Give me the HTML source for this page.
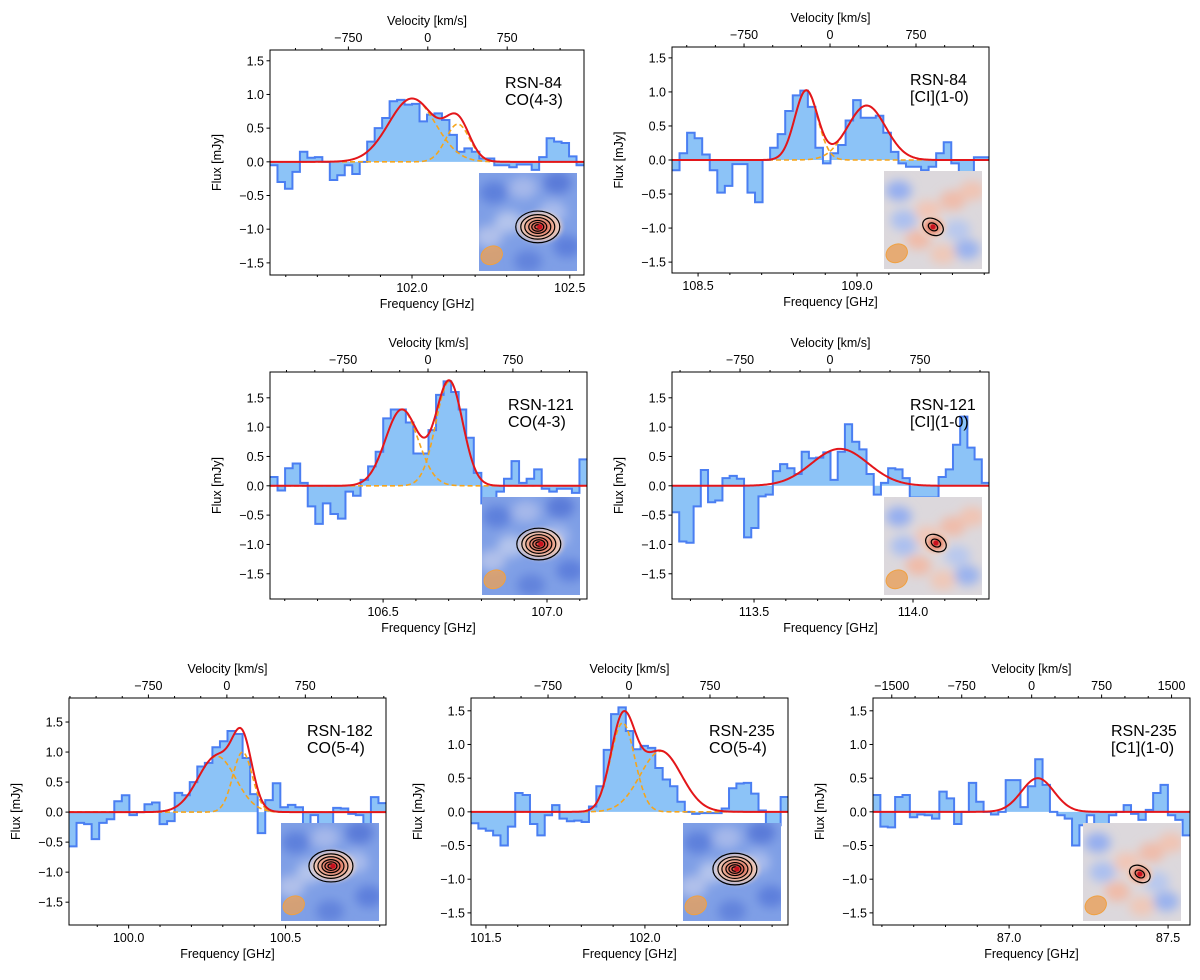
<!DOCTYPE html>
<html><head><meta charset="utf-8"><style>
html,body{margin:0;padding:0;background:#fff;}
svg text{font-family:"Liberation Sans","DejaVu Sans",sans-serif;fill:#000;}
</style></head><body>
<svg id="fig" xmlns="http://www.w3.org/2000/svg" width="1200" height="975" viewBox="0 0 1200 975">
<defs>
<filter id="blur" x="-50%" y="-50%" width="200%" height="200%"><feGaussianBlur stdDeviation="5"/></filter>
<filter id="blur2" x="-50%" y="-50%" width="200%" height="200%"><feGaussianBlur stdDeviation="2.5"/></filter>
<radialGradient id="srcGrad"><stop offset="0" stop-color="#c41e2a"/><stop offset="0.35" stop-color="#e0705a"/><stop offset="0.7" stop-color="#f0b9a0"/><stop offset="1" stop-color="#ead8d0"/></radialGradient>
</defs>
</svg>
<script>
// ---- data: histogram values (mJy) ----
const valsA=[-0.05,-0.3,-0.4,-0.15,0.15,0.06,0.07,0.0,-0.27,-0.2,-0.05,-0.18,0.0,0.3,0.5,0.65,0.9,0.92,0.85,0.86,0.6,0.7,0.72,0.62,0.4,0.15,0.2,0.15,0.05,0.05,-0.05,-0.05,-0.08,-0.04,-0.04,-0.12,0.07,0.35,0.3,0.28,0.08,-0.05];
const valsB=[-0.15,0.1,0.4,0.32,0.08,-0.15,-0.48,-0.38,-0.06,-0.06,-0.48,-0.62,0.0,0.18,0.38,0.72,0.95,1.02,0.78,0.18,-0.05,0.1,0.22,0.58,0.88,0.62,0.62,0.65,0.4,0.12,-0.05,-0.1,-0.1,-0.15,-0.1,0.1,0.26,-0.05,-0.2,-0.2,0.04,0.04];
const valsC=[0.15,-0.08,0.3,0.38,0.05,-0.35,-0.65,-0.3,-0.48,-0.56,-0.1,-0.17,0.1,0.33,0.58,1.15,1.3,1.3,1.08,0.55,0.55,0.95,1.55,1.78,1.6,1.3,0.82,0.22,-0.3,-0.25,-0.1,0.12,0.42,0.05,0.12,0.28,-0.05,-0.1,-0.05,-0.05,-0.12,0.45];
const valsD=[-0.45,-0.95,-0.97,-0.35,0.27,-0.28,-0.25,0.13,0.17,0.12,-0.88,-0.72,-0.18,-0.15,0.25,0.37,0.3,0.2,0.58,0.47,0.48,0.57,0.1,0.58,1.05,0.75,0.62,0.2,-0.15,0.05,0.3,0.28,0.13,-0.2,-0.2,-0.2,-0.2,0.15,0.28,0.7,1.18,0.65,0.45,0.05];
const valsE=[-0.57,-0.18,-0.2,-0.45,-0.18,-0.12,0.18,0.28,-0.05,0.0,0.13,0.16,-0.2,-0.15,0.32,0.28,0.5,0.76,0.82,1.08,1.18,1.35,1.3,0.9,0.3,-0.35,0.2,0.48,0.08,0.12,0.08,-0.3,-0.05,-0.3,-0.3,0.07,0.06,-0.03,-0.05,-0.3,0.25,0.15];
const valsF=[-0.17,-0.25,-0.28,-0.35,-0.5,-0.22,0.28,0.25,-0.18,-0.35,-0.05,0.1,-0.1,-0.14,-0.13,-0.15,0.08,0.38,0.92,1.45,1.55,1.2,0.93,0.98,0.95,0.65,0.48,0.38,0.15,0.0,-0.03,-0.02,-0.02,-0.02,0.05,0.35,0.42,0.43,0.27,0.02,-0.2,-0.2,0.22];
const valsG=[0.25,-0.22,-0.23,0.22,0.25,-0.08,-0.04,-0.05,-0.1,0.3,0.2,-0.18,0.0,0.43,0.15,0.0,-0.04,0.0,0.47,0.47,0.07,0.38,0.78,0.4,0.0,-0.05,-0.1,-0.5,-0.2,-0.05,-0.25,-0.3,-0.05,0.0,0.1,-0.03,-0.12,0.03,0.28,0.4,-0.05,-0.12,-0.35];
// ---- gaussian fit components: [center GHz, amplitude mJy, sigma GHz] ----
const fitA=[[102.0,0.94,0.074],[102.145,0.56,0.038]];
const fitB=[[108.84,1.02,0.036],[109.03,0.8,0.06]];
const fitC=[[106.557,1.3,0.05],[106.702,1.78,0.041]];
const fitD=[[113.77,0.63,0.089]];
const fitE=[[100.281,0.93,0.06],[100.363,1.0,0.031]];
const fitF=[[101.93,1.32,0.038],[102.05,0.9,0.065]];
const fitG=[[87.09,0.5,0.051]];
// ---- tick labels ----
const yTicks=[-1.5,-1.0,-0.5,0.0,0.5,1.0,1.5];
const velTicksStd=[-750,0,750];
const velTicksWide=[-1500,-750,0,750,1500];
const labelA=["RSN-84","CO(4-3)"],labelB=["RSN-84","[CI](1-0)"],labelC=["RSN-121","CO(4-3)"],labelD=["RSN-121","[CI](1-0)"],labelE=["RSN-182","CO(5-4)"],labelF=["RSN-235","CO(5-4)"],labelG=["RSN-235","[C1](1-0)"];

const panels=[
 {id:'a',L:270,R:584,T:50,B:275,f0:101.55,f1:102.545,y0:-1.68,y1:1.66,v0:102.05,d750:0.2516,vals:valsA,fit:fitA,lab:labelA,fT:[102.0,102.5],vT:velTicksStd,inset:'co',sx:0.62,sy:0.55},
 {id:'b',L:672,R:989,T:47,B:273,f0:108.418,f1:109.415,y0:-1.66,y1:1.66,v0:108.915,d750:0.2704,vals:valsB,fit:fitB,lab:labelB,fT:[108.5,109.0],vT:velTicksStd,inset:'ci',sx:0.5,sy:0.57},
 {id:'c',L:270,R:587,T:372,B:599,f0:106.155,f1:107.122,y0:-1.93,y1:1.94,v0:106.637,d750:0.259,vals:valsC,fit:fitC,lab:labelC,fT:[106.5,107.0],vT:velTicksStd,inset:'co',sx:0.6,sy:0.48},
 {id:'d',L:672,R:989,T:372,B:599,f0:113.242,f1:114.239,y0:-1.93,y1:1.94,v0:113.739,d750:0.283,vals:valsD,fit:fitD,lab:labelD,fT:[113.5,114.0],vT:velTicksStd,inset:'ci',sx:0.53,sy:0.47},
 {id:'e',L:69,R:386,T:698,B:925,f0:99.81,f1:100.82,y0:-1.88,y1:1.9,v0:100.313,d750:0.25,vals:valsE,fit:fitE,lab:labelE,fT:[100.0,100.5],vT:velTicksStd,inset:'co',sx:0.53,sy:0.44},
 {id:'f',L:471,R:788,T:698,B:925,f0:101.453,f1:102.45,y0:-1.68,y1:1.69,v0:101.95,d750:0.2547,vals:valsF,fit:fitF,lab:labelF,fT:[101.5,102.0],vT:velTicksStd,inset:'co',sx:0.55,sy:0.47},
 {id:'g',L:873,R:1190,T:698,B:925,f0:86.572,f1:87.569,y0:-1.68,y1:1.69,v0:87.071,d750:0.22,vals:valsG,fit:fitG,lab:labelG,fT:[87.0,87.5],vT:velTicksWide,inset:'ci',sx:0.58,sy:0.52}
];
const NS='http://www.w3.org/2000/svg';
const svg=document.getElementById('fig');
function mk(tag,attrs,parent){const e=document.createElementNS(NS,tag);for(const k in attrs)e.setAttribute(k,attrs[k]);(parent||svg).appendChild(e);return e;}
function fmtV(v){return v<0?'\u2212'+Math.abs(v):String(v);}
function gauss(f,c){return c[1]*Math.exp(-0.5*Math.pow((f-c[0])/c[2],2));}

panels.forEach(p=>{
 const g=mk('g',{});
 
 
 const xs=f=>p.L+(f-p.f0)/(p.f1-p.f0)*(p.R-p.L);
 const ys=v=>p.B-(v-p.y0)/(p.y1-p.y0)*(p.B-p.T);
 const cp=mk('clipPath',{id:'clip'+p.id},g);
 mk('rect',{x:p.L,y:p.T,width:p.R-p.L,height:p.B-p.T},cp);
 const plot=mk('g',{'clip-path':'url(#clip'+p.id+')'},g);
 const n=p.vals.length, bw=(p.f1-p.f0)/n;
 let d='M'+xs(p.f0)+','+ys(0), line='';
 p.vals.forEach((v,i)=>{const xa=xs(p.f0+i*bw),xb=xs(p.f0+(i+1)*bw);d+=' L'+xa+','+ys(v)+' L'+xb+','+ys(v);line+=(i?' L':'M')+xa+','+ys(v)+' L'+xb+','+ys(v);});
 d+=' L'+xs(p.f1)+','+ys(0)+' Z';
 const fill=mk('path',{d:d,fill:'#8cc3f7',stroke:'none'},plot);
 
 
 const st=mk('path',{d:line,fill:'none',stroke:'#4a7ef2','stroke-width':2},plot);
 
 
 const N=300;
 if(p.fit.length>1){p.fit.forEach((c,k)=>{let s='';for(let i=0;i<=N;i++){const f=p.f0+(p.f1-p.f0)*i/N;s+=(i?' L':'M')+xs(f).toFixed(2)+','+ys(gauss(f,c)).toFixed(2);}
  const cpn=mk('path',{d:s,fill:'none',stroke:'#f5a51c','stroke-width':1.6,'stroke-dasharray':'5,3'},plot);
  
  });}
 let s='';for(let i=0;i<=N;i++){const f=p.f0+(p.f1-p.f0)*i/N;let v=0;p.fit.forEach(c=>v+=gauss(f,c));s+=(i?' L':'M')+xs(f).toFixed(2)+','+ys(v).toFixed(2);}
 const fitp=mk('path',{d:s,fill:'none',stroke:'#e3161b','stroke-width':2},plot);
 
 
 // inset
 const iw=98,ix=p.R-105+(p.id==='g'?-2:0),iy=p.B-102;
 const ig=mk('g',{},g);
 
 
 const icp=mk('clipPath',{id:'iclip'+p.id},ig);mk('rect',{x:ix,y:iy,width:iw,height:iw},icp);
 const ic=mk('g',{'clip-path':'url(#iclip'+p.id+')'},ig);
 if(p.inset==='co'){
  mk('rect',{x:ix,y:iy,width:iw,height:iw,fill:'#7f9fe6'},ic);
  const bl=mk('g',{filter:'url(#blur)'},ic);
  [[0.15,0.2,'#5d80dc'],[0.8,0.1,'#5a7ad8'],[0.9,0.75,'#5d7fdc'],[0.3,0.5,'#b4c4ec'],[0.75,0.4,'#a9bcec'],[0.5,0.9,'#6283dc'],[0.1,0.65,'#b0c0ea'],[0.45,0.15,'#a5b8ea']].forEach(b=>mk('ellipse',{cx:ix+b[0]*iw,cy:iy+b[1]*iw,rx:14,ry:11,fill:b[2]},bl));
 } else {
  mk('rect',{x:ix,y:iy,width:iw,height:iw,fill:'#dcd8dc'},ic);
  const bl=mk('g',{filter:'url(#blur)'},ic);
  [[0.15,0.2,'#94aef0'],[0.85,0.8,'#9ab2ee'],[0.7,0.3,'#efbcaa'],[0.35,0.7,'#f0bba8'],[0.2,0.5,'#aabff0'],[0.6,0.85,'#efc8b8'],[0.9,0.2,'#f0c4b4'],[0.45,0.4,'#f2c6b6'],[0.75,0.6,'#b8c8ee']].forEach(b=>mk('ellipse',{cx:ix+b[0]*iw,cy:iy+b[1]*iw,rx:13,ry:10,fill:b[2]},bl));
 }
 const cx=ix+p.sx*iw, cy=iy+p.sy*iw;
 const big=p.inset==='co';
 mk('ellipse',{cx:cx,cy:cy,rx:big?22:13,ry:big?15:11,fill:'url(#srcGrad)',filter:'url(#blur2)'},ic);
 const rings=big?[22,17,13,9,6,3]:[11,5];
 rings.forEach(r=>mk('ellipse',{cx:cx+(big?-2:0),cy:cy,rx:r,ry:r*0.72,fill:'none',stroke:'#000','stroke-width':1.2,transform:'rotate('+(big?0:30)+' '+cx+' '+cy+')'},ic));
 mk('circle',{cx:cx,cy:cy,r:2.5,fill:'#c8101e'},ic);
 mk('ellipse',{cx:ix+0.13*iw,cy:iy+0.84*iw,rx:11,ry:9,fill:'rgba(232,160,90,0.8)',stroke:'#f0a040','stroke-width':1,transform:'rotate(-25 '+(ix+0.13*iw)+' '+(iy+0.84*iw)+')'},ic);
 const fr=mk('rect',{x:p.L,y:p.T,width:p.R-p.L,height:p.B-p.T,fill:'none',stroke:'#000','stroke-width':1},g);
 
 
 yTicks.forEach(t=>{const y=ys(t);mk('line',{x1:p.L-3.5,x2:p.L,y1:y,y2:y,stroke:'#000'},g);
  const tx=mk('text',{x:p.L-6,y:y+4.5,'font-size':12.5,'text-anchor':'end'},g);tx.textContent=t.toFixed(1).replace('-','\u2212');
  
  });
 for(let f=Math.ceil(p.f0*10)/10;f<=p.f1;f+=0.1){const x=xs(f);const maj=p.fT.some(t=>Math.abs(t-f)<1e-6);mk('line',{x1:x,x2:x,y1:p.B,y2:p.B+(maj?3.5:2),stroke:'#000'},g);}
 p.fT.forEach(t=>{const tx=mk('text',{x:xs(t),y:p.B+17,'font-size':12.5,'text-anchor':'middle'},g);tx.textContent=t.toFixed(1);
  
  });
 const vx=v=>xs(p.v0+v/750*p.d750);
 for(let v=-3000;v<=3000;v+=250){const x=vx(v);if(x<p.L||x>p.R)continue;const maj=p.vT.includes(v);mk('line',{x1:x,x2:x,y1:p.T,y2:p.T-(maj?3.5:2),stroke:'#000'},g);}
 p.vT.forEach(v=>{const x=vx(v);if(x<p.L-5||x>p.R+5)return;const tx=mk('text',{x:x,y:p.T-8,'font-size':12.5,'text-anchor':'middle'},g);tx.textContent=fmtV(v);
  
  });
 const mid=(p.L+p.R)/2;
 const vt=mk('text',{x:mid,y:p.T-25,'font-size':12.5,'text-anchor':'middle'},g);vt.textContent='Velocity [km/s]';
 
 
 const ft=mk('text',{x:mid,y:p.B+33,'font-size':12.5,'text-anchor':'middle'},g);ft.textContent='Frequency [GHz]';
 
 
 const ylx=p.L-49, yly=(p.T+p.B)/2;
 const yt=mk('text',{x:ylx,y:yly,'font-size':12.5,'text-anchor':'middle',transform:'rotate(-90 '+ylx+' '+yly+')'},g);yt.textContent='Flux [mJy]';
 
 
 p.lab.forEach((l,k)=>{const t=mk('text',{x:p.R-79,y:p.T+38+k*17,'font-size':16},g);t.textContent=l;
  
  });
});
</script>
</body></html>
